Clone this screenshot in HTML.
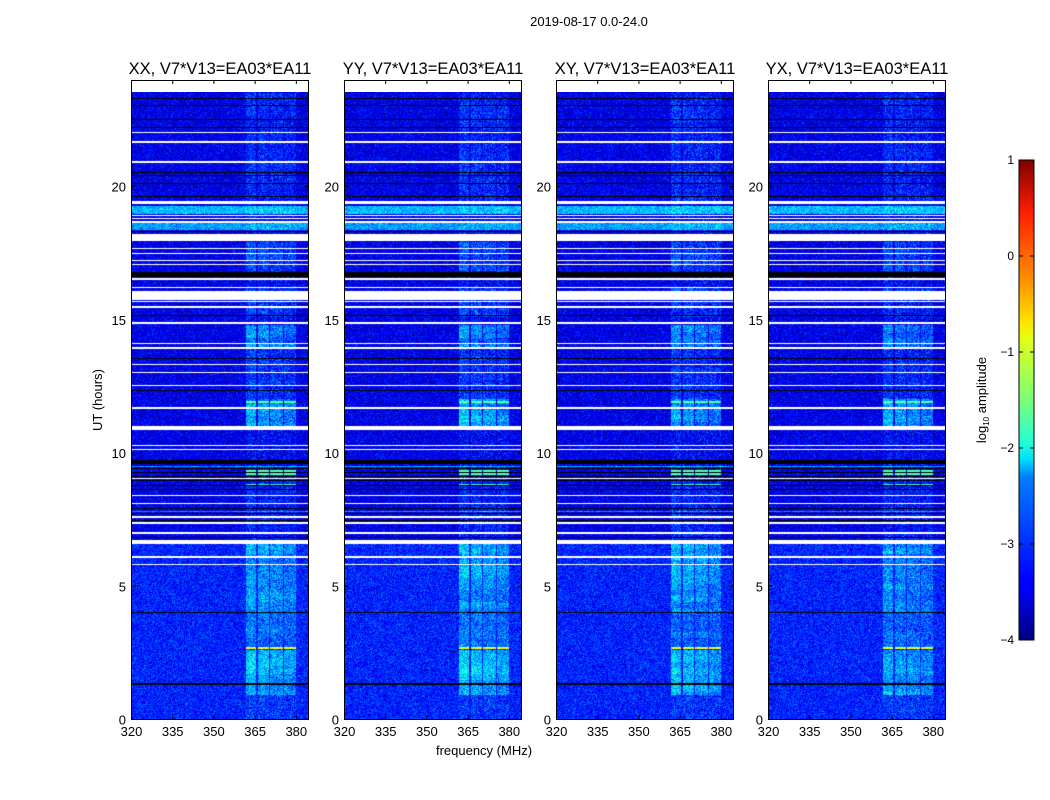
<!DOCTYPE html>
<html><head><meta charset="utf-8">
<style>
body{margin:0;background:#fff;width:1050px;height:800px;position:relative;overflow:hidden;font-family:"Liberation Sans",sans-serif}
canvas{position:absolute}
svg{position:absolute;left:0;top:0}
text{font-family:"Liberation Sans",sans-serif;fill:#000}
</style></head><body>
<canvas id="c0" width="176" height="627" style="left:132px;top:92px"></canvas>
<canvas id="c1" width="176" height="627" style="left:345px;top:92px"></canvas>
<canvas id="c2" width="176" height="627" style="left:557px;top:92px"></canvas>
<canvas id="c3" width="176" height="627" style="left:769px;top:92px"></canvas>
<svg id="ov" width="1050" height="800">
<defs><linearGradient id="jet" x1="0" y1="1" x2="0" y2="0">
<stop offset="0" stop-color="#00007f"/><stop offset="0.11" stop-color="#0000ff"/><stop offset="0.125" stop-color="#0000ff"/>
<stop offset="0.34" stop-color="#0080ff"/><stop offset="0.375" stop-color="#00dcff"/><stop offset="0.41" stop-color="#20ffd6"/>
<stop offset="0.5" stop-color="#7cff79"/><stop offset="0.63" stop-color="#e4ff13"/><stop offset="0.66" stop-color="#ffe600"/>
<stop offset="0.75" stop-color="#ff9000"/><stop offset="0.89" stop-color="#ff1e00"/><stop offset="1" stop-color="#7f0000"/></linearGradient></defs>
<text x="589" y="26" font-size="13" text-anchor="middle">2019-08-17 0.0-24.0</text>
<text x="102" y="400" font-size="13" text-anchor="middle" transform="rotate(-90 102 400)">UT (hours)</text>
<text x="484" y="755" font-size="13" text-anchor="middle">frequency (MHz)</text>
<rect x="1019" y="160" width="15" height="480" fill="url(#jet)" stroke="#000"/>
<text x="986" y="400" font-size="13" text-anchor="middle" transform="rotate(-90 986 400)">log<tspan font-size="8" dy="3">10</tspan><tspan dy="-3"> amplitude</tspan></text>
<g id="cbticks"></g>
<g id="axes"></g>
</svg>
<script>
// ---- data (hours / MHz / log10 amplitude) ----
const panelTitles = ["XX, V7*V13=EA03*EA11","YY, V7*V13=EA03*EA11","XY, V7*V13=EA03*EA11","YX, V7*V13=EA03*EA11"];
const panelGain = [1.0, 1.05, 1.0, 0.9];
const xTicks = [320,335,350,365,380];
const yTicks = [0,5,10,15,20];
const cbTicks = [1,0,-1,-2,-3,-4];
const baseLevels = [[0,6.6,-3.22],[6.6,24,-3.48]];
const flagWhite = [[23.55,24.0],[22.0,22.04],[21.63,21.67],[20.88,20.92],[19.33,19.42],[18.88,18.92],[18.75,18.8],[18.62,18.67],[17.95,18.2],[17.62,17.66],[17.46,17.5],[17.2,17.24],[17.05,17.09],[16.48,16.53],[16.18,16.22],[15.72,16.06],[15.63,15.67],[15.44,15.48],[14.84,14.88],[14.08,14.12],[13.9,13.94],[13.28,13.32],[12.98,13.02],[12.48,12.52],[11.65,11.69],[10.85,11.0],[10.26,10.3],[10.11,10.15],[9.02,9.06],[8.35,8.39],[8.08,8.12],[7.56,7.6],[7.37,7.41],[7.3,7.34],[6.96,7.0],[6.57,6.72],[6.06,6.1],[5.76,5.8]];
const flagBlack = [[23.26,23.3],[22.99,23.03],[22.49,22.53],[22.19,22.23],[20.49,20.53],[20.36,20.4],[20.06,20.1],[19.59,19.63],[18.29,18.33],[16.58,16.77],[15.11,15.15],[13.49,13.53],[12.29,12.33],[9.56,9.73],[9.37,9.4],[9.24,9.27],[9.09,9.12],[8.94,8.97],[8.74,8.77],[8.59,8.62],[7.89,7.93],[7.69,7.72],[7.44,7.47],[6.79,6.82],[3.97,4.0],[2.65,2.68],[1.29,1.36]];
const fullBands = [[18.95,19.25,-2.45],[18.35,18.6,-2.6],[9.44,9.5,-2.6],[7.75,7.8,-2.7]];
const rfiChannels = [[361.5,365.2,1.0],[366.0,370.0,0.9],[370.6,375.0,0.8],[375.6,379.8,0.7]];
const rfiBlocks = [[0.9,2.6,0.8],[2.7,3.97,0.4],[4.0,5.5,0.6],[5.5,6.6,0.7],[6.7,9.5,0.25],[11.0,12.0,0.95],[12.0,13.9,0.35],[13.9,14.8,0.8],[15.1,16.2,0.4],[16.8,17.9,0.5],[19.4,23.5,0.3]];
const rfiLines = [[2.66,-0.95],[9.3,-1.7],[9.2,-1.7],[8.8,-1.8],[11.9,-1.7]];
const rfiFaint = 0.12;

function inR(h,arr){for(const r of arr) if(h>=r[0]&&h<r[1]) return r; return null;}
function jet(v){v=Math.max(0,Math.min(1,v));const c=t=>Math.round(255*Math.max(0,Math.min(1,1.5-Math.abs(t))));return [c(4*v-3),c(4*v-2),c(4*v-1)];}
function hash(a,b,c){let h=(a*374761393+b*668265263+c*2147483647)|0;h=(h^(h>>>13))*1274126177|0;h=h^(h>>>16);return ((h>>>0)%10000)/10000;}
const Y0=719, PXH=26.65, X0=131, PXF=2.747;
for(let p=0;p<4;p++){
  const cv=document.getElementById('c'+p), ctx=cv.getContext('2d');
  const img=ctx.createImageData(176,627);
  for(let j=0;j<627;j++){
    const h=(Y0-(92+j)-0.5)/PXH;
    const w=inR(h,flagWhite), bk=inR(h,flagBlack), fb=inR(h,fullBands), bl=inR(h,baseLevels);
    const blk=inR(h,rfiBlocks);
    let line=null; for(const l of rfiLines) if(Math.abs(h-l[0])<0.03) line=l;
    const rowMod=0.75+0.5*hash(Math.floor(j/6),p,3);
    for(let i=0;i<176;i++){
      const k=(j*176+i)*4; let col;
      if(w) col=[255,255,255];
      else {
        const f=320+(i+1)/PXF;
        let ch=null; for(const c of rfiChannels) if(f>=c[0]&&f<c[1]) ch=c;
        if(ch&&line){ col=jet((line[1]+4)/5); }
        else if(bk) col=[0,0,0];
        else {
          let v=bl?bl[2]:-3.4;
          if(fb) v=fb[2];
          let n=(hash(i,j,p)+hash(j,i,p+7)-1)*0.55;
          if(ch){ v+= (blk?blk[2]*panelGain[p]*rowMod:rfiFaint)*ch[2]; n*=1.3; }
          v+=n;
          col=jet((v+4)/5);
        }
      }
      img.data[k]=col[0];img.data[k+1]=col[1];img.data[k+2]=col[2];img.data[k+3]=255;
    }
  }
  ctx.putImageData(img,0,0);
}
const NS='http://www.w3.org/2000/svg';
function mk(tag,attrs,parent,txt){const e=document.createElementNS(NS,tag);for(const a in attrs)e.setAttribute(a,attrs[a]);if(txt!==undefined)e.textContent=txt;parent.appendChild(e);return e;}
const axes=document.getElementById('axes');
const lefts=[131,344,556,768];
lefts.forEach((L,p)=>{
  const g=mk('g',{},axes);
  
  
  const t=mk('text',{x:L+89,y:74,'font-size':16.5,'text-anchor':'middle'},g,panelTitles[p]);
  
  
  const r=mk('rect',{x:L+0.5,y:80.5,width:177,height:639,fill:'none',stroke:'#000'},g);
  
  
  xTicks.forEach(v=>{const x=L+(v-320)*PXF+0.5;
    mk('line',{x1:x,y1:719,x2:x,y2:715,stroke:'#000'},g);mk('line',{x1:x,y1:80,x2:x,y2:84,stroke:'#000'},g);
    const tl=mk('text',{x:x,y:736,'font-size':13,'text-anchor':'middle'},g,v);
    
    });
  yTicks.forEach(v=>{const y=Y0-v*PXH+0.5;
    mk('line',{x1:L,y1:y,x2:L+4,y2:y,stroke:'#000'},g);mk('line',{x1:L+178,y1:y,x2:L+174,y2:y,stroke:'#000'},g);
    const tl=mk('text',{x:L-5,y:y+5,'font-size':13,'text-anchor':'end'},g,v);
    
    });
});
const cbt=document.getElementById('cbticks');
cbTicks.forEach(v=>{const y=640-(v+4)*96;
  mk('line',{x1:1019,y1:y,x2:1023,y2:y,stroke:'#000'},cbt);mk('line',{x1:1034,y1:y,x2:1030,y2:y,stroke:'#000'},cbt);
  const tl=mk('text',{x:1014,y:y+4,'font-size':12,'text-anchor':'end'},cbt,v<0?'\u2212'+(-v):v);
  
  });
</script>
</body></html>
